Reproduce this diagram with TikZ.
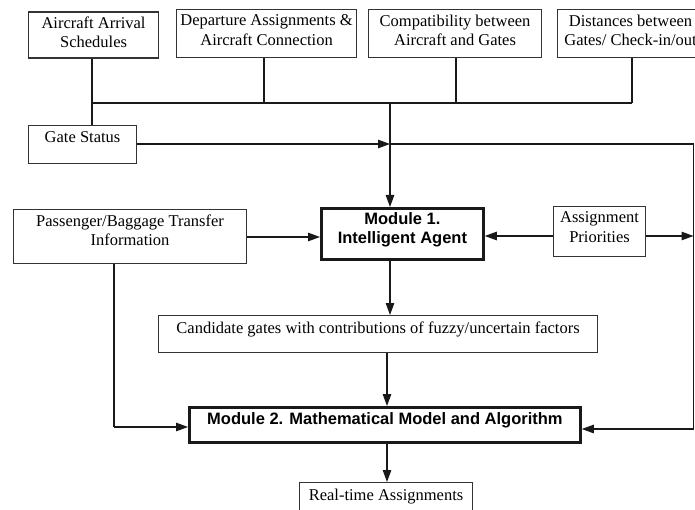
\documentclass[tikz,border=0pt]{standalone}
\usepackage{fontspec}
\setmainfont{Liberation Serif}
\setsansfont{Liberation Sans}
\usetikzlibrary{arrows.meta,positioning,calc}
\begin{document}
\begin{tikzpicture}[x=1pt,y=-1pt]
\tikzset{
  box/.style={draw=black!80, line width=1.1pt, inner sep=0pt, anchor=north west},
  modbox/.style={draw=black!90, line width=2.8pt, inner sep=0pt, anchor=north west},
  txt/.style={font=\fontsize{16.5}{19.5}\selectfont, align=center, inner sep=0pt},
  btxt/.style={font=\sffamily\bfseries\fontsize{16.5}{19}\selectfont, align=center, inner sep=0pt},
  link/.style={line width=1.2pt, draw=black!90},
  arr/.style={link, -{Triangle[length=12pt,width=8.5pt]}},
}
\useasboundingbox (0,0) rectangle (695,510);
\clip (0,0) rectangle (695,510);

% input boxes along the top
\node[box, minimum width=130pt, minimum height=46pt] (ars) at (28,11.5) {};
\node[txt, below=5pt of ars.north] (arsT) {Aircraft Arrival\\Schedules};
\node[box, minimum width=180pt, minimum height=48pt] (dep) at (176,9.3) {};
\node[txt, below=5.5pt of dep.north] (depT) {Departure Assignments \&\\Aircraft Connection};
\node[box, minimum width=173pt, minimum height=48pt] (com) at (368,9.3) {};
\node[txt, below=5.5pt of com.north] (comT) {Compatibility between\\Aircraft and Gates};
\node[box, minimum width=146pt, minimum height=48pt] (dis) at (557,9.3) {};
\node[txt, below=5.5pt of dis.north] (disT) {Distances between\\Gates/ Check-in/out};

% gate status
\node[box, minimum width=108pt, minimum height=38pt] (gate) at (28,125) {};
\node[txt, below=6.4pt of gate.north] (gateT) {Gate Status};

% middle row
\node[box, minimum width=233pt, minimum height=54pt] (pax) at (13,209) {};
\node[txt, below=5.4pt of pax.north] (paxT) {Passenger/Baggage Transfer\\Information};
\node[modbox, minimum width=162pt, minimum height=51pt] (m1) at (320,207) {};
\node[btxt, below=5pt of m1.north] (m1T) {Module 1.\\Intelligent Agent};
\node[box, minimum width=92pt, minimum height=50pt] (asg) at (553,206) {};
\node[txt, below=5.4pt of asg.north] (asgT) {Assignment\\Priorities};

% candidate gates
\node[box, minimum width=439pt, minimum height=37pt] (cand) at (158,315) {};
\node[txt, below=6.4pt of cand.north] (candT) {Candidate gates with contributions of fuzzy/uncertain factors};

% module 2 and output
\node[modbox, minimum width=391pt, minimum height=35pt] (m2) at (188,406) {};
\node[btxt, below=6pt of m2.north] (m2T) {Module 2. Mathematical Model and Algorithm};
\node[box, minimum width=173pt, minimum height=40pt] (rt) at (299,482) {};
\node[txt, below=6.4pt of rt.north] (rtT) {Real-time Assignments};

% junction points
\coordinate (busL) at (92,103);
\coordinate (busR) at (632,103);
\coordinate (busJ) at (390,103);
\coordinate (gJ) at (390,144);
\coordinate (rTop) at (693.5,144);
\coordinate (rBot) at (693.5,429);
\coordinate (yA) at (0,236);
\coordinate (pBot) at (114,427);

% collecting bus of the top inputs
\draw[link] (ars.south -| busL) -- (gate.north -| busL);
\draw[link] (busL) -- (busR);
\draw[link] (dep.south -| 264,0) -- (264,103);
\draw[link] (com.south -| 456,0) -- (456,103);
\draw[link] (dis.south -| busR) -- (busR);

% into module 1
\draw[arr] (busJ) -- (m1.north -| busJ);
\draw[arr] (gate.east |- gJ) -- (gJ);
\draw[link] (gJ) -- (rTop) -- (rBot);
\draw[arr] (rBot) -- (rBot -| m2.east);
\draw[arr] (pax.east |- 0,237) -- (m1.west |- 0,237);
\draw[arr] (asg.west |- yA) -- (m1.east |- yA);
\draw[arr] (asg.east |- yA) -- (rTop |- yA);

% down the chain
\draw[arr] (m1.south -| busJ) -- (cand.north -| busJ);
\draw[arr] (cand.south -| 387,0) -- (m2.north -| 387,0);
\draw[link] (pax.south -| pBot) -- (pBot);
\draw[arr] (pBot) -- (pBot -| m2.west);
\draw[arr] (m2.south -| 387,0) -- (rt.north -| 387,0);
\end{tikzpicture}
\end{document}
